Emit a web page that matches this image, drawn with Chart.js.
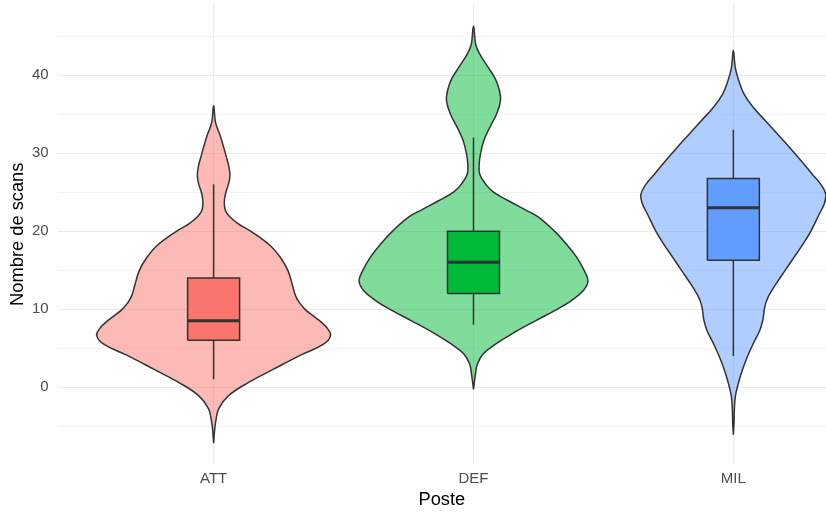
<!DOCTYPE html>
<html>
<head>
<meta charset="utf-8">
<script src="https://cdn.jsdelivr.net/npm/chart.js@4/dist/chart.umd.min.js"></script>
<style>
  html, body { margin: 0; padding: 0; background: #ffffff; }
  #wrap { width: 826px; height: 512px; }
</style>
</head>
<body>
<div id="wrap"><canvas id="c" width="826" height="512"></canvas></div>
<script>
// Positions on the x axis
const categories = ['ATT', 'DEF', 'MIL'];

// Box-plot summaries (number of scans)
const whiskerLow  = [1, 8, 4];
const q1          = [6, 12, 16.25];
const median      = [8.5, 16, 23];
const q3          = [14, 20, 26.75];
const whiskerHigh = [26, 32, 33];

// Kernel density profiles (relative density at each number of scans)
const attY       = [-7.2, -5.5, -4.5, -2.8, -1.1, 0.6, 2.3, 4.1, 5.5, 6.6, 7.5, 8.3, 9.1, 9.9, 10.8, 11.7, 13.0, 14.9, 16.4, 18.1, 20.0, 21.1, 22.4, 23.7, 25.0, 26.0, 27.1, 28.3, 30.0, 32.2, 33.9, 36.1];
const attDensity = [0, 1, 2, 5, 15, 35, 60, 87, 110, 117, 114, 108, 100, 92, 86, 82, 79, 74.5, 68, 57, 37, 23, 12.7, 10.7, 12.3, 14.8, 16.3, 15.2, 11.7, 6.7, 2, 0];

const defY       = [-0.3, 1.7, 3.0, 4.3, 5.5, 6.8, 8.5, 10.0, 11.1, 12.4, 13.6, 14.9, 16.7, 18.4, 20.0, 21.8, 22.8, 23.9, 25.0, 26.0, 27.3, 28.6, 29.9, 31.6, 33.3, 35.0, 36.7, 38.0, 39.5, 41.0, 42.7, 43.9, 46.3];
const defDensity = [0, 2, 4, 10, 22, 38, 62, 84, 98, 110, 114.5, 111, 103, 92.5, 81, 65, 51, 35, 20, 12.3, 6.3, 5.7, 7, 10.3, 16.3, 23, 27, 26, 22, 14.7, 6.3, 2.3, 0];

const milY       = [-6.1, -4.5, -2.9, -1.2, 0.5, 2.2, 3.9, 5.6, 7.3, 8.6, 9.3, 10.0, 10.8, 11.6, 12.4, 13.3, 15.0, 16.7, 18.4, 20.1, 22.2, 23.5, 24.7, 26.0, 27.3, 29.0, 30.7, 32.4, 34.1, 35.8, 37.5, 39.2, 40.9, 43.2];
const milDensity = [0, 0.7, 1, 2, 5, 9, 14, 20, 26.5, 29.5, 30.3, 31, 32.5, 35, 38.5, 43, 52, 61, 70, 78, 86, 91, 92.5, 87.5, 79, 68, 56.5, 44.5, 32.5, 20.5, 11, 5.7, 2, 0];

// y-axis gridline values (labels only on multiples of 10)
const yGridValues = [-5, 0, 5, 10, 15, 20, 25, 30, 35, 40, 45];

const violinY = [attY, defY, milY];
const violinDensity = [attDensity, defDensity, milDensity];

// Appearance
const fills     = ['#F8766D', '#00BA38', '#619CFF'];
const fillsSoft = ['rgba(248,118,109,0.5)', 'rgba(0,186,56,0.5)', 'rgba(97,156,255,0.5)'];
const outline = '#333333';
const violinMaxHalf = 0.45;   // widest violin spans 0.9 category units
const boxHalf = 0.1;          // box spans 0.2 category units

const maxDensity = Math.max(...violinDensity.flat());

function violinOutline(center, ys, dens) {
  const right = ys.map((y, i) => ({ x: center + dens[i] / maxDensity * violinMaxHalf, y }));
  const left  = ys.map((y, i) => ({ x: center - dens[i] / maxDensity * violinMaxHalf, y })).reverse();
  return right.concat(left.slice(1));
}

const datasets = [];
categories.forEach((cat, i) => {
  const c = i + 1;
  datasets.push({
    label: cat + ' violin',
    data: violinOutline(c, violinY[i], violinDensity[i]),
    showLine: true, fill: 'shape', tension: 0.4,
    backgroundColor: fillsSoft[i], borderColor: outline, borderWidth: 1.5,
    pointRadius: 0, order: 4
  });
  datasets.push({
    label: cat + ' upper whisker',
    data: [{ x: c, y: q3[i] }, { x: c, y: whiskerHigh[i] }],
    showLine: true, fill: false, borderColor: outline, borderWidth: 1.5,
    pointRadius: 0, order: 3
  });
  datasets.push({
    label: cat + ' lower whisker',
    data: [{ x: c, y: whiskerLow[i] }, { x: c, y: q1[i] }],
    showLine: true, fill: false, borderColor: outline, borderWidth: 1.5,
    pointRadius: 0, order: 3
  });
  datasets.push({
    label: cat + ' box',
    data: [
      { x: c - boxHalf, y: q1[i] }, { x: c + boxHalf, y: q1[i] },
      { x: c + boxHalf, y: q3[i] }, { x: c - boxHalf, y: q3[i] },
      { x: c - boxHalf, y: q1[i] }
    ],
    showLine: true, fill: 'shape', tension: 0,
    backgroundColor: fills[i], borderColor: outline, borderWidth: 1.5,
    pointRadius: 0, order: 2
  });
  datasets.push({
    label: cat + ' median',
    data: [{ x: c - boxHalf, y: median[i] }, { x: c + boxHalf, y: median[i] }],
    showLine: true, fill: false, borderColor: outline, borderWidth: 3,
    borderCapStyle: 'butt', pointRadius: 0, order: 1
  });
});

Chart.defaults.font.family = "'Liberation Sans', Arial, Helvetica, sans-serif";

new Chart(document.getElementById('c'), {
  type: 'scatter',
  data: { datasets },
  options: {
    responsive: false,
    animation: false,
    devicePixelRatio: 1,
    events: [],
    layout: { padding: { top: 5, left: 0, right: 0, bottom: 0 } },
    plugins: { legend: { display: false }, tooltip: { enabled: false } },
    scales: {
      x: {
        type: 'linear',
        min: 0.4,
        max: 3.3565,
        afterBuildTicks: s => { s.ticks = categories.map((_, i) => ({ value: i + 1 })); },
        afterFit: s => { s.height = 48.5; s.paddingLeft = 0; s.paddingRight = 0; },
        ticks: {
          callback: v => categories[v - 1],
          color: '#4D4D4D',
          font: { size: 15 },
          padding: 6,
          autoSkip: false,
          maxRotation: 0
        },
        grid: { color: '#EBEBEB', lineWidth: 1.1, drawTicks: false },
        border: { display: false },
        title: {
          display: true, text: 'Poste', color: '#000000',
          font: { size: 18.3 }, padding: { top: 0, bottom: 1.5 }
        }
      },
      y: {
        type: 'linear',
        min: -9.8,
        max: 49,
        afterBuildTicks: s => { s.ticks = yGridValues.map(v => ({ value: v })); },
        afterFit: s => { s.width = 57.7; s.paddingTop = 0; s.paddingBottom = 0; },
        ticks: {
          callback: v => (v % 10 === 0 ? String(v) : ''),
          color: '#4D4D4D',
          font: { size: 15 },
          padding: 9,
          autoSkip: false
        },
        grid: {
          color: '#EBEBEB',
          lineWidth: ctx => (ctx.tick && ctx.tick.value % 10 === 0 ? 1.1 : 0.55),
          drawTicks: false
        },
        border: { display: false },
        title: {
          display: true, text: 'Nombre de scans', color: '#000000',
          font: { size: 18.3 }, padding: { top: 6.5, bottom: 0 }
        }
      }
    }
  }
});
</script>
</body>
</html>
